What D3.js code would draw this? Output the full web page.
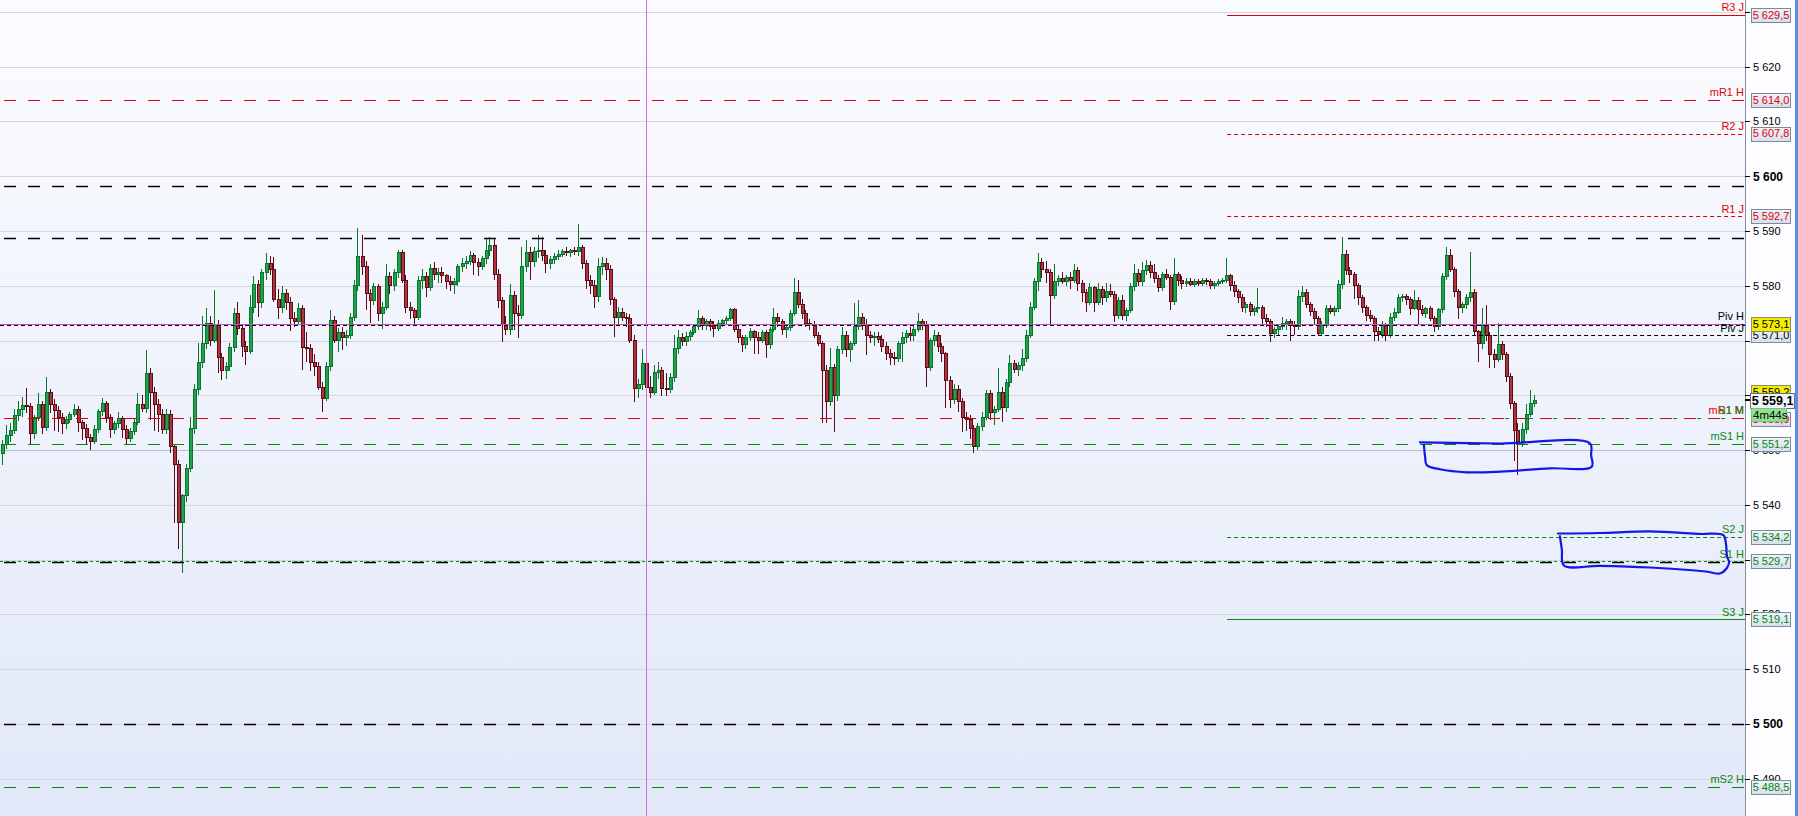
<!DOCTYPE html>
<html><head><meta charset="utf-8">
<script src="https://cdn.jsdelivr.net/npm/d3@7"></script>
<style>html,body{margin:0;padding:0;overflow:hidden;background:#fff}svg{display:block}text{font-family:"Liberation Sans",Arial,sans-serif}</style>
</head><body><svg id="c" width="1798" height="816"></svg>
<script>
// ---------- DATA ----------
// 1-minute candles [open, high, low, close]
const ohlc = [
[5549.4,5551.8,5547.3,5551.0],[5551.0,5554.5,5550.2,5552.6],[5552.6,5555.0,5551.5,5553.5],[5553.5,5557.5,5553.0,5556.3],[5556.3,5559.0,5555.3,5557.4],
[5557.4,5559.7,5556.0,5558.2],[5558.2,5561.3,5556.8,5558.0],[5558.0,5558.6,5551.0,5553.0],[5553.0,5556.5,5552.0,5556.0],[5556.0,5560.4,5555.3,5558.3],
[5558.3,5559.0,5553.0,5554.2],[5554.2,5563.4,5553.5,5560.5],[5560.5,5561.2,5556.8,5558.3],[5558.3,5559.3,5553.5,5557.3],[5557.3,5558.0,5553.3,5556.0],
[5556.0,5556.8,5553.0,5554.8],[5554.8,5556.2,5553.8,5555.5],[5555.5,5557.0,5555.0,5556.5],[5556.5,5558.4,5556.0,5557.5],[5557.5,5558.0,5553.3,5555.0],
[5555.0,5555.5,5551.8,5554.0],[5554.0,5554.8,5551.0,5552.3],[5552.3,5553.0,5550.0,5551.6],[5551.6,5554.5,5551.2,5553.8],[5553.8,5557.5,5553.2,5557.0],
[5557.0,5559.5,5556.2,5558.6],[5558.6,5559.0,5555.0,5556.0],[5556.0,5556.6,5552.2,5553.8],[5553.8,5555.3,5553.0,5554.8],[5554.8,5557.0,5554.0,5555.8],
[5555.8,5556.3,5552.3,5553.8],[5553.8,5554.5,5551.0,5552.2],[5552.2,5554.0,5551.5,5553.4],[5553.4,5555.8,5552.8,5555.0],[5555.0,5560.4,5554.5,5558.3],
[5558.3,5560.0,5557.0,5557.6],[5557.6,5568.3,5556.8,5564.0],[5564.0,5565.0,5555.5,5560.5],[5560.5,5561.5,5553.5,5558.3],[5558.3,5559.3,5553.3,5556.5],
[5556.5,5557.5,5553.0,5553.8],[5553.8,5557.5,5553.0,5556.5],[5556.5,5557.3,5549.5,5550.6],[5550.6,5551.2,5536.7,5547.3],[5547.3,5548.2,5532.0,5536.8],
[5536.8,5542.0,5527.5,5541.8],[5541.8,5547.5,5540.5,5546.7],[5546.7,5556.0,5546.0,5554.0],[5554.0,5562.0,5553.0,5561.0],[5561.0,5569.5,5560.0,5566.0],
[5566.0,5574.5,5565.0,5569.5],[5569.5,5576.0,5568.5,5573.2],[5573.2,5574.5,5569.0,5570.0],[5570.0,5579.2,5569.5,5573.0],[5573.0,5573.8,5564.0,5567.0],
[5567.0,5567.8,5562.8,5564.6],[5564.6,5566.0,5563.0,5565.2],[5565.2,5569.5,5564.5,5568.8],[5568.8,5576.0,5568.0,5575.0],[5575.0,5577.0,5571.0,5572.2],
[5572.2,5573.0,5567.0,5569.0],[5569.0,5570.0,5565.5,5568.0],[5568.0,5578.3,5567.5,5576.0],[5576.0,5581.8,5575.0,5580.3],[5580.3,5581.0,5574.3,5577.0],
[5577.0,5583.0,5576.0,5582.5],[5582.5,5586.0,5581.0,5584.0],[5584.0,5585.5,5582.0,5583.0],[5583.0,5585.3,5577.0,5577.5],[5577.5,5579.5,5574.0,5576.0],
[5576.0,5580.0,5575.0,5578.6],[5578.6,5579.5,5575.5,5577.0],[5577.0,5578.0,5571.8,5574.0],[5574.0,5575.3,5572.5,5573.5],[5573.5,5576.8,5573.0,5575.8],
[5575.8,5576.5,5564.6,5568.8],[5568.8,5571.5,5566.0,5568.5],[5568.5,5569.3,5564.5,5566.0],[5566.0,5567.5,5563.5,5565.2],[5565.2,5566.0,5561.0,5561.5],
[5561.5,5562.5,5557.0,5559.5],[5559.5,5566.0,5559.0,5565.2],[5565.2,5575.5,5564.5,5573.7],[5573.7,5574.5,5569.5,5570.0],[5570.0,5572.3,5568.0,5571.5],
[5571.5,5572.5,5568.3,5570.5],[5570.5,5572.0,5569.0,5571.0],[5571.0,5575.0,5570.3,5574.3],[5574.3,5581.0,5573.5,5580.0],[5580.0,5590.5,5579.0,5585.3],
[5585.3,5589.3,5582.0,5583.5],[5583.5,5584.5,5575.6,5578.6],[5578.6,5579.5,5573.2,5577.4],[5577.4,5580.5,5576.5,5579.8],[5579.8,5580.3,5573.5,5575.0],
[5575.0,5577.0,5572.2,5576.0],[5576.0,5584.0,5575.5,5581.7],[5581.7,5582.5,5578.5,5580.0],[5580.0,5583.0,5579.0,5582.5],[5582.5,5586.5,5581.5,5586.0],
[5586.0,5586.5,5580.5,5581.0],[5581.0,5582.0,5575.0,5576.0],[5576.0,5577.0,5574.0,5575.5],[5575.5,5576.0,5572.8,5574.3],[5574.3,5581.8,5573.8,5581.0],
[5581.0,5583.0,5579.5,5581.7],[5581.7,5582.5,5578.0,5579.7],[5579.7,5584.0,5579.0,5583.2],[5583.2,5584.3,5581.0,5582.0],[5582.0,5583.3,5580.5,5582.5],
[5582.5,5583.5,5580.5,5581.8],[5581.8,5582.2,5579.5,5580.8],[5580.8,5581.8,5579.0,5580.3],[5580.3,5581.5,5578.5,5580.8],[5580.8,5584.0,5580.0,5583.5],
[5583.5,5585.0,5582.5,5584.0],[5584.0,5585.5,5583.0,5584.5],[5584.5,5586.3,5583.8,5585.5],[5585.5,5586.0,5582.0,5584.3],[5584.3,5585.0,5581.7,5583.5],
[5583.5,5585.5,5582.8,5585.0],[5585.0,5588.7,5584.0,5586.5],[5586.5,5589.0,5585.5,5587.4],[5587.4,5588.5,5581.0,5582.0],[5582.0,5583.0,5576.0,5577.4],
[5577.4,5578.0,5569.8,5573.0],[5573.0,5574.5,5571.0,5572.0],[5572.0,5580.4,5571.0,5578.3],[5578.3,5579.0,5572.0,5575.0],[5575.0,5576.5,5570.5,5574.5],
[5574.5,5587.0,5574.0,5583.5],[5583.5,5588.4,5582.5,5586.0],[5586.0,5587.0,5581.0,5584.5],[5584.5,5587.0,5583.5,5586.2],[5586.2,5589.2,5585.0,5586.5],
[5586.5,5589.0,5584.5,5585.5],[5585.5,5586.5,5582.3,5584.0],[5584.0,5585.5,5583.0,5584.8],[5584.8,5586.0,5584.0,5585.3],[5585.3,5586.5,5584.7,5585.8],
[5585.8,5586.8,5585.2,5586.3],[5586.3,5587.0,5585.5,5586.0],[5586.0,5586.8,5585.3,5586.4],[5586.4,5587.0,5585.6,5586.2],[5586.2,5591.3,5585.5,5587.0],
[5587.0,5587.5,5583.0,5584.0],[5584.0,5584.8,5579.5,5581.0],[5581.0,5582.0,5578.5,5580.0],[5580.0,5581.0,5576.0,5578.0],[5578.0,5585.0,5577.0,5583.5],
[5583.5,5585.2,5582.0,5584.0],[5584.0,5585.0,5581.0,5583.0],[5583.0,5583.8,5576.5,5577.5],[5577.5,5578.0,5570.6,5574.3],[5574.3,5576.2,5573.0,5575.2],
[5575.2,5576.0,5573.5,5574.2],[5574.2,5575.0,5572.5,5574.0],[5574.0,5574.8,5569.5,5570.0],[5570.0,5571.0,5558.8,5561.3],[5561.3,5563.0,5559.5,5562.0],
[5562.0,5568.5,5561.0,5565.8],[5565.8,5566.5,5559.0,5561.5],[5561.5,5563.5,5559.5,5560.5],[5560.5,5565.5,5560.0,5564.2],[5564.2,5566.0,5563.0,5564.5],
[5564.5,5565.2,5559.8,5561.3],[5561.3,5564.0,5559.8,5561.0],[5561.0,5564.0,5560.5,5563.2],[5563.2,5571.0,5562.5,5568.5],[5568.5,5572.0,5567.5,5570.5],
[5570.5,5571.3,5569.0,5569.8],[5569.8,5571.5,5569.0,5570.8],[5570.8,5572.0,5570.0,5571.5],[5571.5,5573.0,5571.0,5572.5],[5572.5,5575.6,5572.0,5574.0],
[5574.0,5574.5,5572.0,5572.8],[5572.8,5574.0,5572.0,5573.5],[5573.5,5574.0,5571.8,5572.5],[5572.5,5573.5,5570.6,5572.2],[5572.2,5573.8,5571.8,5573.2],
[5573.2,5574.0,5572.5,5573.6],[5573.6,5574.5,5573.0,5574.0],[5574.0,5576.0,5573.5,5575.6],[5575.6,5576.0,5571.5,5572.0],[5572.0,5573.0,5569.5,5570.5],
[5570.5,5571.0,5568.0,5569.2],[5569.2,5571.0,5568.5,5570.5],[5570.5,5572.3,5570.0,5571.6],[5571.6,5572.0,5567.6,5570.5],[5570.5,5571.5,5567.5,5570.0],
[5570.0,5572.0,5569.5,5571.4],[5571.4,5572.0,5566.8,5569.3],[5569.3,5572.5,5568.5,5572.0],[5572.0,5576.0,5571.5,5574.3],[5574.3,5575.0,5572.5,5573.5],
[5573.5,5574.0,5571.0,5572.0],[5572.0,5573.0,5570.5,5572.3],[5572.3,5575.5,5571.8,5575.0],[5575.0,5581.4,5574.5,5578.7],[5578.7,5581.0,5576.0,5576.6],
[5576.6,5577.5,5574.0,5575.0],[5575.0,5575.5,5572.5,5573.2],[5573.2,5574.0,5572.0,5573.0],[5573.0,5573.5,5570.5,5571.0],[5571.0,5571.5,5569.0,5569.5],
[5569.5,5570.0,5555.0,5564.6],[5564.6,5565.5,5555.0,5558.8],[5558.8,5568.6,5558.0,5565.0],[5565.0,5565.8,5553.3,5560.0],[5560.0,5569.0,5559.0,5568.3],
[5568.3,5572.5,5567.5,5571.0],[5571.0,5571.8,5567.0,5568.3],[5568.3,5570.0,5566.0,5569.5],[5569.5,5576.8,5569.0,5572.5],[5572.5,5577.4,5572.0,5574.3],
[5574.3,5575.0,5572.0,5573.0],[5573.0,5574.0,5567.3,5571.0],[5571.0,5571.8,5569.5,5570.5],[5570.5,5571.5,5569.0,5570.8],[5570.8,5571.5,5569.5,5570.2],
[5570.2,5571.0,5568.0,5569.0],[5569.0,5569.8,5566.5,5567.6],[5567.6,5568.5,5565.5,5567.0],[5567.0,5568.0,5565.5,5566.8],[5566.8,5570.0,5566.0,5569.5],
[5569.5,5571.5,5566.0,5570.6],[5570.6,5572.0,5569.5,5571.3],[5571.3,5572.5,5570.0,5571.0],[5571.0,5572.8,5570.0,5572.0],[5572.0,5575.0,5571.5,5573.4],
[5573.4,5574.0,5572.0,5572.8],[5572.8,5573.5,5561.5,5565.0],[5565.0,5570.5,5564.5,5570.0],[5570.0,5572.0,5569.0,5571.0],[5571.0,5571.5,5568.0,5569.0],
[5569.0,5569.5,5566.0,5567.6],[5567.6,5568.0,5557.7,5562.8],[5562.8,5563.5,5557.7,5559.2],[5559.2,5562.0,5558.5,5561.0],[5561.0,5561.8,5557.0,5558.8],
[5558.8,5559.5,5553.3,5556.0],[5556.0,5557.0,5553.5,5555.5],[5555.5,5556.5,5552.0,5554.0],[5554.0,5554.5,5549.5,5550.6],[5550.6,5555.0,5550.0,5554.3],
[5554.3,5557.0,5553.5,5556.0],[5556.0,5561.0,5555.5,5560.4],[5560.4,5561.0,5555.5,5556.8],[5556.8,5558.0,5554.5,5557.5],[5557.5,5565.0,5557.0,5560.6],
[5560.6,5561.5,5555.1,5557.7],[5557.7,5563.0,5557.0,5562.4],[5562.4,5567.3,5561.5,5565.8],[5565.8,5566.5,5564.0,5564.8],[5564.8,5566.0,5563.5,5565.5],
[5565.5,5568.5,5564.5,5566.8],[5566.8,5572.0,5566.0,5571.0],[5571.0,5577.0,5570.5,5576.1],[5576.1,5581.5,5575.5,5580.7],[5580.7,5586.0,5579.0,5584.3],
[5584.3,5585.0,5581.5,5583.0],[5583.0,5584.5,5580.5,5582.5],[5582.5,5583.0,5572.8,5578.3],[5578.3,5584.0,5577.5,5580.7],[5580.7,5582.0,5580.0,5581.3],
[5581.3,5582.5,5580.3,5580.8],[5580.8,5582.0,5580.0,5581.5],[5581.5,5582.5,5579.5,5581.0],[5581.0,5584.0,5580.5,5582.8],[5582.8,5583.5,5579.0,5580.5],
[5580.5,5581.0,5577.0,5578.7],[5578.7,5579.5,5575.3,5577.0],[5577.0,5580.5,5576.5,5579.6],[5579.6,5580.0,5575.3,5577.0],[5577.0,5580.5,5576.5,5579.3],
[5579.3,5580.0,5576.5,5577.8],[5577.8,5580.5,5577.0,5579.0],[5579.0,5580.3,5578.0,5578.5],[5578.5,5579.0,5573.4,5574.6],[5574.6,5578.0,5574.0,5577.4],
[5577.4,5578.3,5573.8,5574.6],[5574.6,5576.0,5573.5,5575.5],[5575.5,5580.5,5575.0,5579.8],[5579.8,5584.0,5579.0,5582.3],[5582.3,5583.0,5580.0,5580.7],
[5580.7,5584.3,5580.0,5582.8],[5582.8,5584.7,5582.0,5583.7],[5583.7,5584.5,5581.5,5582.5],[5582.5,5584.0,5580.5,5581.4],[5581.4,5582.0,5578.8,5579.6],
[5579.6,5582.5,5579.0,5582.0],[5582.0,5583.0,5581.0,5581.5],[5581.5,5582.0,5575.6,5577.1],[5577.1,5585.0,5576.5,5582.0],[5582.0,5582.5,5580.0,5581.0],
[5581.0,5581.8,5579.5,5580.5],[5580.5,5581.5,5579.8,5580.8],[5580.8,5581.5,5580.0,5580.3],[5580.3,5581.2,5579.8,5580.7],[5580.7,5581.3,5580.0,5580.5],
[5580.5,5581.5,5580.0,5581.0],[5581.0,5581.5,5580.2,5580.8],[5580.8,5581.3,5579.5,5580.0],[5580.0,5580.8,5579.5,5580.5],[5580.5,5581.3,5580.0,5580.8],
[5580.8,5581.5,5580.3,5581.0],[5581.0,5585.0,5580.5,5581.8],[5581.8,5582.2,5579.0,5580.0],[5580.0,5580.8,5578.0,5579.0],[5579.0,5579.5,5576.8,5577.8],
[5577.8,5578.5,5575.2,5576.0],[5576.0,5577.0,5575.0,5576.5],[5576.5,5577.0,5574.5,5575.3],[5575.3,5576.3,5574.5,5575.8],[5575.8,5579.6,5575.0,5576.0],
[5576.0,5576.5,5573.0,5574.0],[5574.0,5574.8,5572.5,5573.4],[5573.4,5574.0,5569.7,5571.3],[5571.3,5572.5,5570.5,5572.0],[5572.0,5573.0,5571.0,5572.5],
[5572.5,5574.3,5572.0,5573.2],[5573.2,5574.0,5572.0,5573.5],[5573.5,5574.0,5570.0,5572.8],[5572.8,5573.5,5571.0,5572.5],[5572.5,5579.3,5572.0,5578.0],
[5578.0,5580.0,5577.0,5578.8],[5578.8,5579.5,5576.0,5576.5],[5576.5,5577.0,5574.5,5575.3],[5575.3,5576.0,5573.0,5574.0],[5574.0,5574.5,5571.0,5571.3],
[5571.3,5573.5,5570.8,5572.8],[5572.8,5576.5,5572.3,5575.9],[5575.9,5576.5,5574.8,5575.3],[5575.3,5576.3,5574.5,5575.8],[5575.8,5581.0,5575.3,5580.3],
[5580.3,5588.9,5579.5,5585.7],[5585.7,5586.5,5582.0,5582.8],[5582.8,5583.5,5580.5,5582.0],[5582.0,5582.5,5577.5,5580.0],[5580.0,5580.5,5576.5,5577.8],
[5577.8,5578.3,5575.0,5576.1],[5576.1,5576.5,5573.5,5574.6],[5574.6,5575.5,5573.3,5574.0],[5574.0,5574.5,5570.0,5571.6],[5571.6,5572.5,5570.0,5571.2],
[5571.2,5573.5,5570.5,5572.8],[5572.8,5573.2,5570.0,5571.0],[5571.0,5575.0,5570.5,5574.3],[5574.3,5576.0,5573.5,5575.2],[5575.2,5578.5,5574.8,5577.8],
[5577.8,5578.5,5577.0,5578.0],[5578.0,5578.5,5576.5,5577.5],[5577.5,5578.0,5574.6,5575.9],[5575.9,5579.3,5575.5,5577.4],[5577.4,5578.0,5572.8,5575.6],
[5575.6,5576.5,5574.5,5575.0],[5575.0,5576.2,5574.2,5575.8],[5575.8,5576.3,5573.5,5574.0],[5574.0,5574.5,5571.5,5572.5],[5572.5,5576.0,5572.0,5575.6],
[5575.6,5582.3,5575.0,5581.7],[5581.7,5587.0,5581.0,5585.6],[5585.6,5586.8,5582.5,5583.0],[5583.0,5583.5,5578.0,5579.0],[5579.0,5579.5,5574.0,5576.1],
[5576.1,5577.0,5575.0,5576.5],[5576.5,5578.5,5575.8,5577.8],[5577.8,5586.2,5577.0,5578.7],[5578.7,5579.5,5571.0,5571.6],[5571.6,5572.0,5566.0,5569.5],
[5569.5,5576.0,5568.5,5572.8],[5572.8,5576.5,5570.0,5571.0],[5571.0,5571.5,5565.0,5567.4],[5567.4,5568.5,5565.0,5566.5],[5566.5,5573.2,5566.0,5569.2],
[5569.2,5570.0,5566.5,5567.5],[5567.5,5568.0,5562.5,5563.5],[5563.5,5564.0,5557.5,5558.5],[5558.5,5559.0,5548.0,5553.5],[5553.5,5555.0,5545.5,5551.5],
[5551.5,5555.0,5550.5,5553.7],[5553.7,5558.5,5553.0,5556.5],[5556.5,5561.0,5556.0,5558.5],[5558.5,5560.0,5557.8,5559.1]
];
const tickValues = [5490,5500,5510,5520,5530,5540,5550,5560,5570,5580,5590,5600,5610,5620,5630];
const labelledTicks = [5490,5500,5510,5520,5540,5550,5580,5590,5600,5610,5620];
const boldTicks = [5500,5600];
const levelNames  = ["R3 J","mR1 H","R2 J","R1 J","Piv H","Piv J","mR1 M","S1 M","mS1 H","S2 J","S1 H","S3 J","mS2 H"];
const levelValues = [5629.5,5614.0,5607.8,5592.7,5573.1,5571.0,5555.9,5555.9,5551.2,5534.2,5529.7,5519.1,5488.5];
const roundLevels = [5598.3,5588.8,5529.5,5500.0];   // unlabelled black long-dash levels
const extraLevel  = [5572.8];                         // unlabelled black short-dash level
const dayStartIndex = 306.4;                           // start of daily (J) levels
const markerIndex = 161.2;                             // vertical session marker
const prevLabelValue = 5559.2;
const countdown = "4m44s";
// hand-drawn annotations in (candle index, price)
const box1 = [[354.6,5551.43],[374.6,5551.21],[397.1,5551.25],[397.4,5549.11],[397.55,5546.97],[387.1,5546.68],[374.6,5546.06],[366.3,5545.95],[359.6,5546.5],[356.3,5547.28],[355.9,5548.8],[355.6,5550.94]];
const box2 = [[389.1,5534.78],[399.6,5534.87],[412.1,5535.15],[424.6,5534.7],[430.4,5534.51],[431.1,5532.99],[431.4,5530.54],[431.9,5529.58],[431.3,5528.43],[429.6,5527.48],[426.1,5527.84],[412.1,5528.57],[399.6,5528.88],[390.6,5528.94],[390.1,5531.77],[389.6,5534.32]];

// ---------- RENDER ----------
const W=1798,H=816,plotRight=1745;
const svg=d3.select("#c");
const loc=d3.formatLocale({decimal:",",thousands:" ",grouping:[3],currency:["",""]});
const f1=loc.format(",.1f"), f0=loc.format(",.0f");
const defs=svg.append("defs");
const bg=defs.append("linearGradient").attr("id","bg").attr("x1",0).attr("y1",0).attr("x2",0).attr("y2",1);
bg.append("stop").attr("offset","0%").attr("stop-color","#fbfcff");
bg.append("stop").attr("offset","100%").attr("stop-color","#e2e8f8");
const bx=defs.append("linearGradient").attr("id","bx").attr("x1",0).attr("y1",0).attr("x2",0).attr("y2",1);
bx.append("stop").attr("offset","0%").attr("stop-color","#eef3fb");
bx.append("stop").attr("offset","100%").attr("stop-color","#d6dfee");

svg.append("rect").attr("width",plotRight).attr("height",H).attr("fill","url(#bg)");
svg.append("rect").attr("x",plotRight).attr("width",W-plotRight).attr("height",H).attr("fill","#fdfdff");
svg.append("rect").attr("x",1795).attr("width",3).attr("height",H).attr("fill","#5a8fe8");

const x=d3.scaleLinear().domain([0,ohlc.length-1]).range([1.5,1533.5]);
const y=d3.scaleLinear().domain([5500,5620]).range([724,66.7]);

// grid
svg.append("g").selectAll("line").data(tickValues).join("line")
  .attr("x1",0).attr("x2",plotRight).attr("y1",d=>Math.round(y(d))+0.5).attr("y2",d=>Math.round(y(d))+0.5)
  .attr("stroke",d=>d===5550?"#b7bed0":"#d3d7e3").attr("stroke-width",1);

// candles
const cg=svg.append("g").attr("shape-rendering","crispEdges");
const up=d=>d[3]>=d[0];
cg.selectAll("line").data(ohlc).join("line")
  .attr("x1",(d,i)=>Math.round(x(i))+0.5).attr("x2",(d,i)=>Math.round(x(i))+0.5)
  .attr("y1",d=>y(Math.max(d[1],d[0],d[3]))).attr("y2",d=>y(Math.min(d[2],d[0],d[3])))
  .attr("stroke",d=>up(d)?"#08772a":"#5e0a16").attr("stroke-width",1);
cg.selectAll("rect").data(ohlc).join("rect")
  .attr("x",(d,i)=>Math.round(x(i))-1).attr("width",3)
  .attr("y",d=>y(Math.max(d[0],d[3]))).attr("height",d=>Math.max(1,Math.abs(y(d[0])-y(d[3]))))
  .attr("fill",d=>up(d)?"#21a04f":"#ad3441").attr("stroke",d=>up(d)?"#08772a":"#5e0a16").attr("stroke-width",1);

// level lines
const RED="#e00000",GRN="#0a860a",BLK="#000";
const styleOf={
 "R3 J":{c:RED,d:null,from:"day"},"mR1 H":{c:RED,d:"12,12",from:"all"},
 "R2 J":{c:RED,d:"4,3",from:"day"},"R1 J":{c:RED,d:"4,3",from:"day"},
 "Piv H":{c:"#c84fc8",d:null,from:"all",t:BLK},"Piv J":{c:BLK,d:"4,3",from:"day"},
 "mR1 M":{c:RED,d:"12,12",from:"all"},"S1 M":{c:GRN,d:"4,8",from:"day"},
 "mS1 H":{c:GRN,d:"12,12",from:"all"},"S2 J":{c:GRN,d:"4,3",from:"day"},
 "S1 H":{c:GRN,d:"3,3",from:"all"},"S3 J":{c:GRN,d:null,from:"day"},"mS2 H":{c:GRN,d:"12,12",from:"all"}
};
const lg=svg.append("g");
roundLevels.forEach(v=>lg.append("line").attr("x1",0).attr("x2",plotRight).attr("y1",Math.round(y(v))+0.5).attr("y2",Math.round(y(v))+0.5)
  .attr("stroke",BLK).attr("stroke-width",1.3).attr("stroke-dasharray","12,12").attr("stroke-dashoffset",-4));
extraLevel.forEach(v=>lg.append("line").attr("x1",0).attr("x2",plotRight).attr("y1",Math.round(y(v))+0.5).attr("y2",Math.round(y(v))+0.5)
  .attr("stroke",BLK).attr("stroke-width",1).attr("stroke-dasharray","4,3"));
const order=[7,0,1,2,3,5,4,6,8,9,10,11,12];
order.forEach(k=>{
  const n=levelNames[k],v=levelValues[k],s=styleOf[n];
  const yy=Math.round(y(v))+0.5, x0=s.from==="day"?x(dayStartIndex):0;
  const l=lg.append("line").attr("x1",x0).attr("x2",plotRight).attr("y1",yy).attr("y2",yy).attr("stroke",s.c).attr("stroke-width",1);
  if(s.d) l.attr("stroke-dasharray",s.d).attr("stroke-dashoffset",n==="S1 M"?-2:(s.d==="12,12"?-4:0));
});
// vertical marker
svg.append("line").attr("x1",Math.round(x(markerIndex))+0.5).attr("x2",Math.round(x(markerIndex))+0.5).attr("y1",0).attr("y2",H)
  .attr("stroke","#d968d9").attr("stroke-width",1);

// axis
const ag=svg.append("g");
ag.append("line").attr("x1",plotRight+0.5).attr("x2",plotRight+0.5).attr("y1",0).attr("y2",H).attr("stroke","#858d98");
ag.selectAll("line.t").data(tickValues).join("line").attr("class","t")
  .attr("x1",plotRight).attr("x2",plotRight+5).attr("y1",d=>Math.round(y(d))+0.5).attr("y2",d=>Math.round(y(d))+0.5).attr("stroke","#000");
ag.selectAll("text").data(labelledTicks).join("text")
  .attr("x",plotRight+8).attr("y",d=>y(d)).attr("dy","0.36em")
  .attr("font-size",d=>boldTicks.includes(d)?"12px":"11px").attr("font-weight",d=>boldTicks.includes(d)?"bold":"normal")
  .attr("fill","#000").text(d=>f0(d));

// level names
const ng=svg.append("g");
levelNames.forEach((n,k)=>{
  const s=styleOf[n];
  ng.append("text").attr("x",plotRight-1).attr("y",y(levelValues[k])-3.5).attr("text-anchor","end")
    .attr("font-size","11px").attr("fill",s.t||s.c).text(n);
});

// value boxes
function valBox(cy,txt,color,fill,opts={}){
  const w=opts.w||39,h=opts.h||14,x0=opts.x||1751;
  svg.append("rect").attr("x",x0+0.5).attr("y",Math.round(cy-h/2)+0.5).attr("width",w).attr("height",h)
    .attr("fill",fill).attr("stroke",opts.stroke||"#7d8b99").attr("stroke-width",1);
  svg.append("text").attr("x",x0+0.5+w/2).attr("y",cy).attr("dy","0.36em").attr("text-anchor","middle")
    .attr("font-size",opts.fs||"11px").attr("font-weight",opts.fw||"normal").attr("fill",color).text(txt);
}
const boxIdx=[0,1,2,3,5,4,8,9,10,11,12];
boxIdx.forEach(k=>{
  const n=levelNames[k],s=styleOf[n];
  if(n==="Piv H") valBox(y(levelValues[k]),f1(levelValues[k]),"#000","#f4ee00",{stroke:"#8c8c70"});
  else valBox(y(levelValues[k]),f1(levelValues[k]),s.t||s.c,"url(#bx)");
});
// mR1 M / S1 M box (partly hidden)
valBox(y(levelValues[6])+1.5,f1(levelValues[6]),RED,"url(#bx)");
// last price
const last=ohlc[ohlc.length-1][3];
valBox(y(last)-8,f1(prevLabelValue),"#000","#f4ee00",{stroke:"#8c8c70"});
valBox(y(last),f1(last),"#000","#f2f5fb",{w:44,h:15,x:1750,fs:"12.5px",fw:"bold",stroke:"#66707c"});
svg.append("line").attr("x1",plotRight).attr("x2",plotRight+5).attr("y1",Math.round(y(last))).attr("y2",Math.round(y(last))).attr("stroke","#000").attr("stroke-width",2);
svg.append("rect").attr("x",1751.5).attr("y",Math.round(y(last))+8.5).attr("width",35).attr("height",13).attr("fill","#8fe38f").attr("stroke","#7fbf7f");
svg.append("text").attr("x",1753).attr("y",Math.round(y(last))+15).attr("dy","0.36em").attr("font-size","11.5px").attr("fill","#000").text(countdown);

// annotations
const line=d3.line().x(d=>x(d[0])).y(d=>y(d[1])).curve(d3.curveCatmullRom.alpha(0.5));
[box1,box2].forEach(b=>svg.append("path").attr("d",line(b)).attr("fill","none").attr("stroke","#1616e6").attr("stroke-width",2.2).attr("stroke-linecap","round").attr("stroke-linejoin","round"));
</script></body></html>
